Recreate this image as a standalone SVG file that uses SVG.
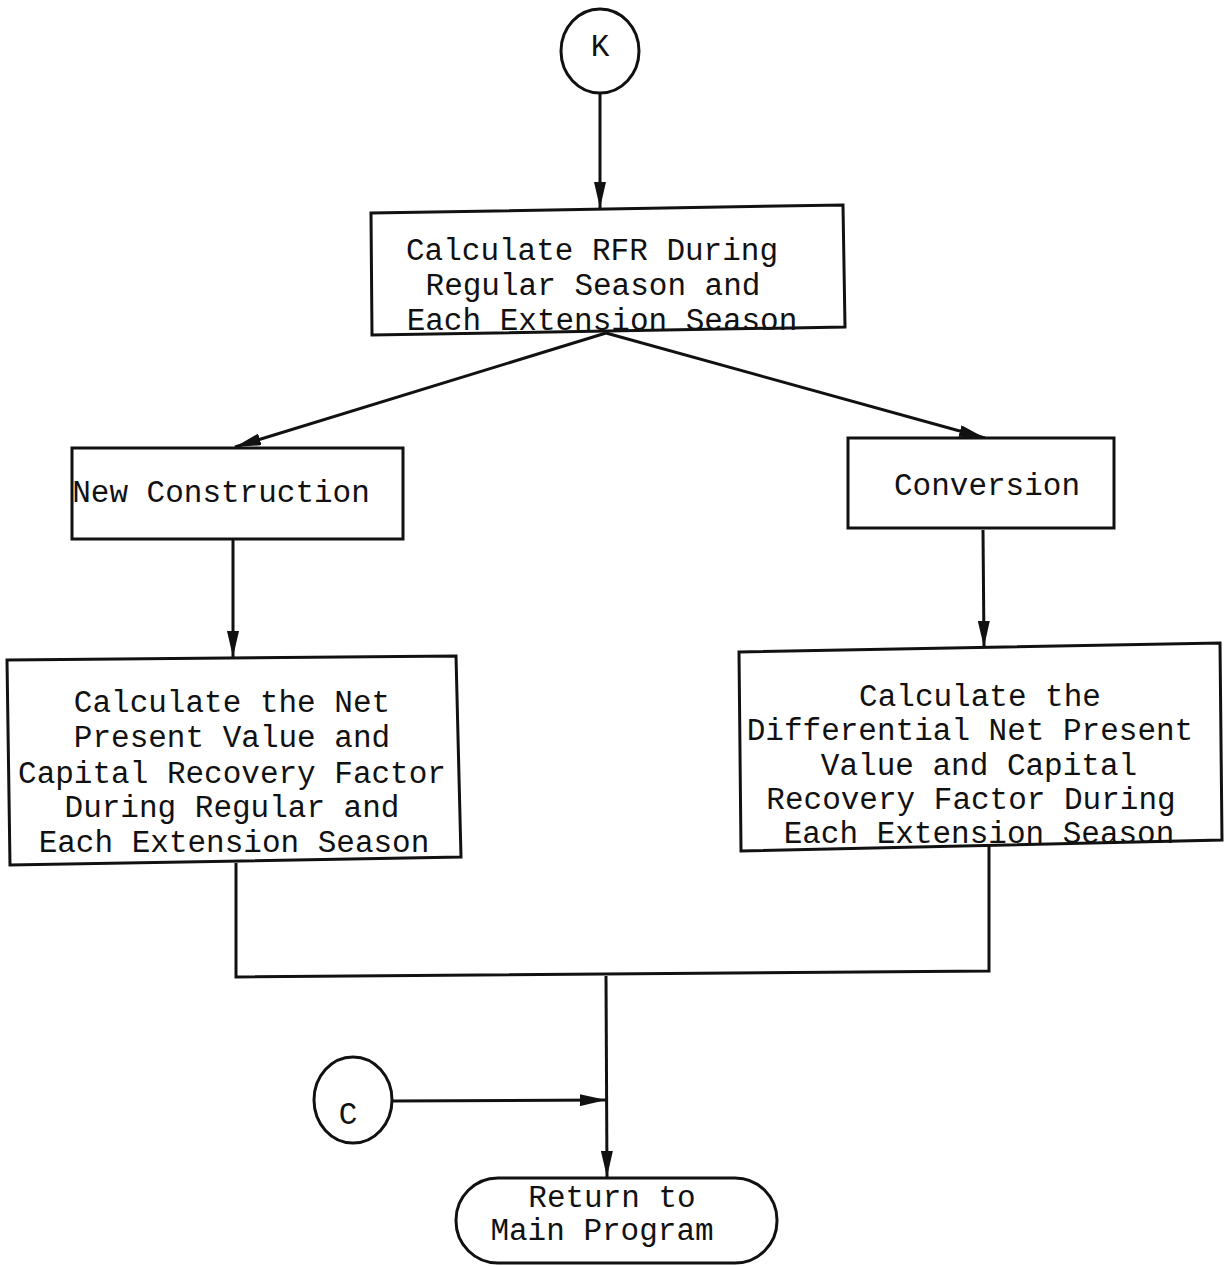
<svg xmlns="http://www.w3.org/2000/svg" width="1231" height="1266" viewBox="0 0 1231 1266">
  <style>
    .box { fill: #fff; stroke: #111; stroke-width: 3; }
    .line { fill: none; stroke: #111; stroke-width: 3; }
    .lbl { font-family: "Liberation Mono", "DejaVu Sans Mono", monospace; font-size: 31px; fill: #111; text-anchor: middle; }
    .conn { font-family: "Liberation Mono", "DejaVu Sans Mono", monospace; font-size: 31px; fill: #111; text-anchor: middle; }
  </style>
  <defs>
    <marker id="arrow" viewBox="0 0 26 12" refX="26" refY="6" markerWidth="26" markerHeight="12" markerUnits="userSpaceOnUse" orient="auto">
      <path d="M0,0 L26,6 L0,12 Z" fill="#111"/>
    </marker>
  </defs>
  <rect width="1231" height="1266" fill="#fff"/>

  <!-- connectors -->
  <g id="connectors">
    <line class="line" x1="600" y1="94" x2="600" y2="208" marker-end="url(#arrow)"/>
    <line class="line" x1="606" y1="333" x2="235" y2="447" marker-end="url(#arrow)"/>
    <line class="line" x1="606" y1="333" x2="985" y2="438" marker-end="url(#arrow)"/>
    <line class="line" x1="233" y1="540" x2="233" y2="657" marker-end="url(#arrow)"/>
    <line class="line" x1="983" y1="530" x2="984" y2="647" marker-end="url(#arrow)"/>
    <polyline class="line" points="236,863 236,977 989,971 989,845"/>
    <line class="line" x1="606" y1="976" x2="607" y2="1177" marker-end="url(#arrow)"/>
    <line class="line" x1="392" y1="1101" x2="606" y2="1100" marker-end="url(#arrow)"/>
  </g>

  <!-- entry connector K -->
  <g id="node-k">
    <ellipse class="box" cx="600" cy="51" rx="39" ry="42"/>
    <text class="conn" x="600" y="56">K</text>
  </g>

  <!-- RFR calculation -->
  <g id="node-rfr">
    <polygon class="box" points="371,213 843,205 845,327 372,335"/>
    <text class="lbl" x="592" y="260">Calculate RFR During</text>
    <text class="lbl" x="593" y="295">Regular Season and</text>
    <text class="lbl" x="602" y="330">Each Extension Season</text>
  </g>

  <!-- New construction branch -->
  <g id="node-new">
    <rect class="box" x="72" y="448" width="331" height="91"/>
    <text class="lbl" x="221" y="502">New Construction</text>
  </g>

  <!-- Conversion branch -->
  <g id="node-conv">
    <rect class="box" x="848" y="438" width="266" height="90"/>
    <text class="lbl" x="987" y="495">Conversion</text>
  </g>

  <!-- NPV / CRF for new construction -->
  <g id="node-npv">
    <polygon class="box" points="7,660 456,656 461,857 10,865"/>
    <text class="lbl" x="232" y="712">Calculate the Net</text>
    <text class="lbl" x="232" y="747">Present Value and</text>
    <text class="lbl" x="232" y="783">Capital Recovery Factor</text>
    <text class="lbl" x="232" y="817">During Regular and</text>
    <text class="lbl" x="234" y="852">Each Extension Season</text>
  </g>

  <!-- Differential NPV / CRF for conversion -->
  <g id="node-dnpv">
    <polygon class="box" points="739,652 1220,643 1222,840 741,851"/>
    <text class="lbl" x="980" y="706">Calculate the</text>
    <text class="lbl" x="970" y="740">Differential Net Present</text>
    <text class="lbl" x="979" y="775">Value and Capital</text>
    <text class="lbl" x="971" y="809">Recovery Factor During</text>
    <text class="lbl" x="979" y="843">Each Extension Season</text>
  </g>

  <!-- entry connector C -->
  <g id="node-c">
    <ellipse class="box" cx="353" cy="1100" rx="39" ry="43"/>
    <text class="conn" x="348" y="1124">C</text>
  </g>

  <!-- terminal -->
  <g id="node-return">
    <rect class="box" x="456" y="1178" width="321" height="85" rx="42" ry="42"/>
    <text class="lbl" x="612" y="1207">Return to</text>
    <text class="lbl" x="602" y="1240">Main Program</text>
  </g>
</svg>
